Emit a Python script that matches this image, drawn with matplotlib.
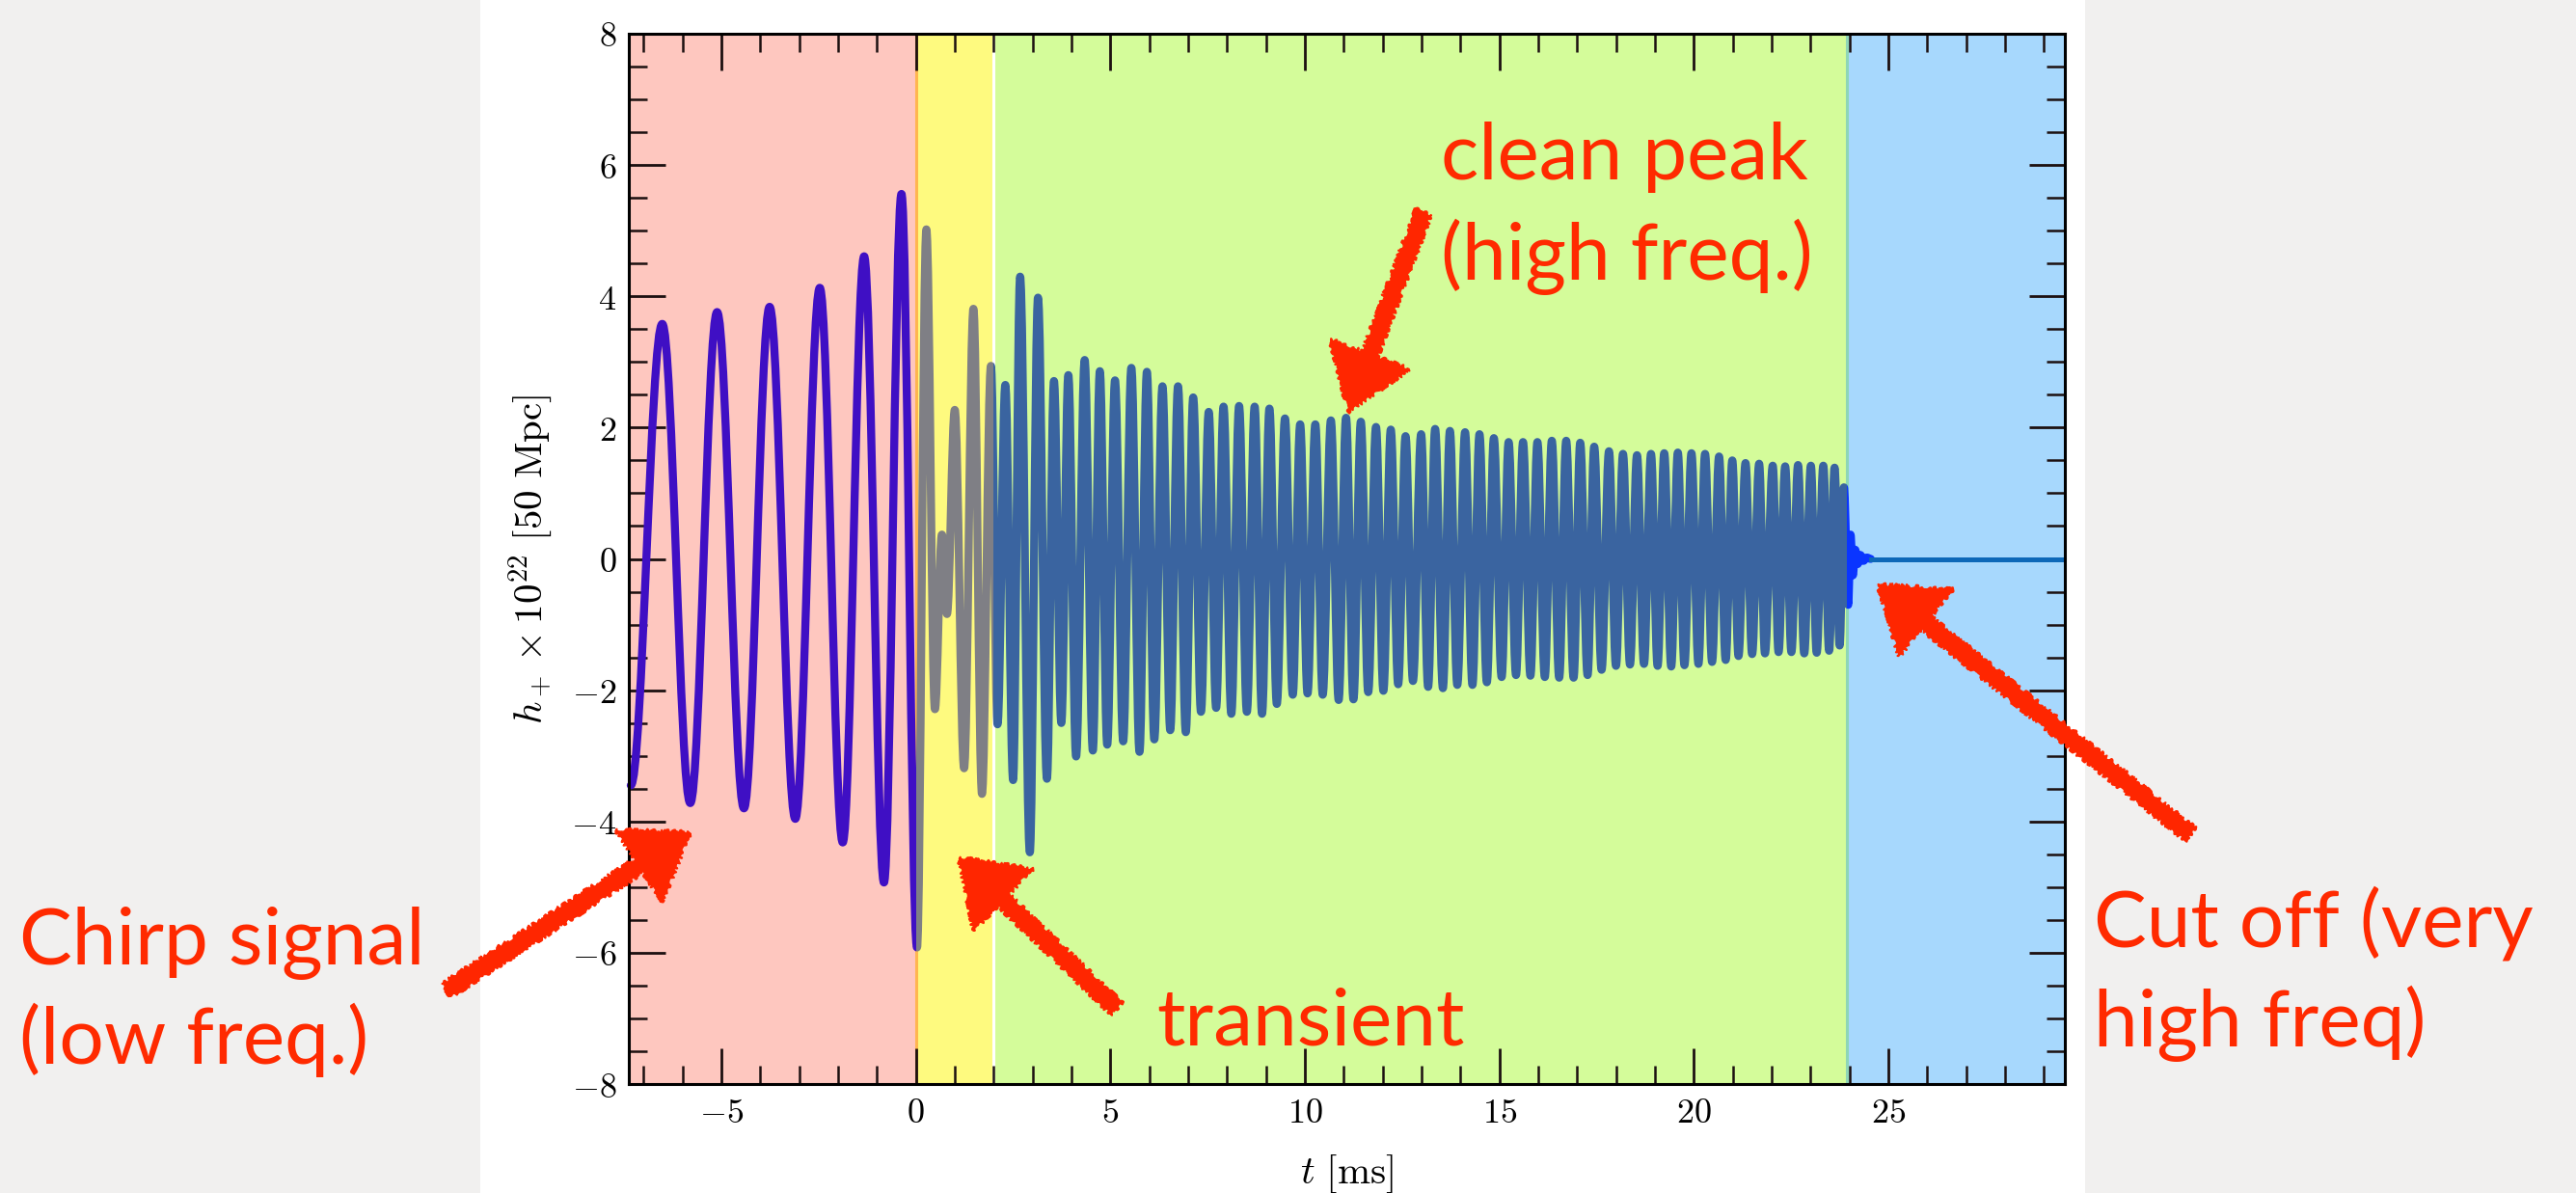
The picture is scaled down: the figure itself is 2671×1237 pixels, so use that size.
"""Gravitational-wave strain h+ with annotated signal regions."""

import matplotlib
matplotlib.use('Agg')
import matplotlib.pyplot as plt
from matplotlib.path import Path
from matplotlib.patches import PathPatch, Rectangle, FancyArrowPatch, ArrowStyle
from matplotlib.ticker import MultipleLocator, FuncFormatter

# Configuration
W, H = 2671, 1237
DPI = 100
RED = '#ff2a00'

# Waveform extrema (t in ms, h+ x 1e22)
chirp_t = [-7.33, -6.52, -5.80, -5.11, -4.42, -3.76, -3.10, -2.47, -1.88, -1.33, -0.82, -0.37]
chirp_h = [-3.45, 3.58, -3.72, 3.76, -3.80, 3.84, -3.96, 4.13, -4.32, 4.61, -4.93, 5.56]

transient_t = [0.03, 0.27, 0.49, 0.67, 0.80, 1.00, 1.24, 1.48, 1.70, 1.93]
transient_h = [-5.92, 5.02, -2.29, 0.37, -0.84, 2.27, -3.19, 3.81, -3.58, 2.94]

peak_t = [2.10, 2.30, 2.50, 2.68, 2.93, 3.14, 3.37, 3.55, 3.74, 3.92,
          4.12, 4.34, 4.55, 4.73, 4.92, 5.12, 5.33, 5.54, 5.75, 5.94,
          6.13, 6.34, 6.54, 6.74, 6.94, 7.13, 7.33, 7.53, 7.72, 7.91,
          8.11, 8.31, 8.51, 8.71, 8.90, 9.09, 9.28, 9.49, 9.69, 9.88,
          10.07, 10.27, 10.46, 10.67, 10.87, 11.06, 11.25, 11.44, 11.63, 11.83,
          12.02, 12.21, 12.40, 12.59, 12.78, 12.99, 13.17, 13.35, 13.55, 13.73,
          13.92, 14.12, 14.31, 14.49, 14.68, 14.86, 15.06, 15.24, 15.43, 15.61,
          15.80, 15.98, 16.17, 16.35, 16.54, 16.72, 16.91, 17.08, 17.27, 17.44,
          17.63, 17.82, 18.00, 18.18, 18.36, 18.54, 18.72, 18.90, 19.07, 19.24,
          19.42, 19.59, 19.76, 19.94, 20.12, 20.29, 20.47, 20.65, 20.82, 20.99,
          21.15, 21.33, 21.50, 21.68, 21.83, 22.03, 22.18, 22.35, 22.51, 22.68,
          22.84, 23.01, 23.16, 23.33, 23.48, 23.62, 23.75, 23.86]
peak_h = [-2.52, 2.65, -3.37, 4.30, -4.47, 3.98, -3.35, 2.71, -2.50, 2.80,
          -3.01, 3.03, -2.92, 2.86, -2.83, 2.72, -2.78, 2.91, -2.94, 2.85,
          -2.75, 2.63, -2.61, 2.63, -2.64, 2.46, -2.33, 2.24, -2.27, 2.32,
          -2.36, 2.33, -2.33, 2.32, -2.36, 2.29, -2.21, 2.14, -2.07, 2.05,
          -2.05, 2.05, -2.07, 2.11, -2.15, 2.15, -2.14, 2.09, -2.03, 2.01,
          -2.01, 1.97, -1.91, 1.87, -1.86, 1.90, -1.95, 1.98, -1.97, 1.95,
          -1.92, 1.93, -1.92, 1.90, -1.88, 1.84, -1.80, 1.78, -1.77, 1.78,
          -1.78, 1.78, -1.80, 1.80, -1.81, 1.80, -1.81, 1.77, -1.77, 1.71,
          -1.69, 1.64, -1.63, 1.60, -1.61, 1.58, -1.60, 1.60, -1.63, 1.61,
          -1.64, 1.62, -1.62, 1.61, -1.60, 1.60, -1.57, 1.56, -1.54, 1.50,
          -1.48, 1.46, -1.45, 1.45, -1.44, 1.42, -1.42, 1.41, -1.42, 1.43,
          -1.44, 1.42, -1.43, 1.42, -1.40, 1.39, -1.32, 1.09]

ring_t = [23.97, 24.03, 24.09, 24.15, 24.21, 24.28, 24.36, 24.45, 24.55]
ring_h = [-0.70, 0.37, -0.25, 0.14, -0.08, 0.06, -0.03, 0.02, 0.0]

flat_t = [24.55, 29.6]
flat_h = [0.0, 0.0]

# Region boundaries (ms) and colours
T_MIN, T_MAX = -7.38, 29.54
region_edges = [T_MIN, 0.0, 2.0, 23.93, T_MAX]
region_colors = ['#fec7bf', '#fefa7f', '#d4fc9a', '#a7d8fd']
edge_colors = ['#ffb54f', '#ffffff', '#8ed6b6']
line_colors = ['#3f0fc4', '#7f7f85', '#3a64a0', '#0a35ff']


def bezier_path(ts, hs, k=0.364):
    """Smooth path through extrema with flat tangents at each extremum."""
    verts = [(ts[0], hs[0])]
    codes = [Path.MOVETO]
    for i in range(len(ts) - 1):
        d = (ts[i + 1] - ts[i]) * k
        verts += [(ts[i] + d, hs[i]), (ts[i + 1] - d, hs[i + 1]), (ts[i + 1], hs[i + 1])]
        codes += [Path.CURVE4] * 3
    return Path(verts, codes)


def fig_xy(x, y):
    """Pixel position in the 2671x1237 picture -> figure fraction."""
    return x / W, 1 - y / H


plt.rcParams['mathtext.fontset'] = 'cm'
plt.rcParams['font.family'] = ['DejaVu Sans']

fig = plt.figure(figsize=(W / DPI, H / DPI), dpi=DPI, facecolor='#f1f0ef')
fig.add_artist(Rectangle(fig_xy(498, H), (2162 - 498) / W, 1, transform=fig.transFigure,
                         facecolor='white', edgecolor='none', zorder=-5))

ax = fig.add_axes([652 / W, 1 - 1124 / H, (2141 - 652) / W, (1124 - 35) / H])

for i in range(4):
    ax.axvspan(region_edges[i], region_edges[i + 1], color=region_colors[i], lw=0, zorder=0)
for x, c in zip(region_edges[1:4], edge_colors):
    ax.axvline(x, color=c, lw=2.2, zorder=0.5)

# waveform, coloured by region through clipping
all_t = chirp_t + transient_t + peak_t + ring_t
all_h = chirp_h + transient_h + peak_h + ring_h
wave = bezier_path(all_t, all_h)
for i in range(4):
    lo = region_edges[i] if i > 0 else -20
    hi = region_edges[i + 1] if i < 3 else 40
    patch = PathPatch(wave, facecolor='none', edgecolor=line_colors[i], lw=6.0,
                      capstyle='round', joinstyle='round', zorder=2)
    ax.add_patch(patch)
    patch.set_clip_path(Rectangle((lo, -20), hi - lo, 40, transform=ax.transData))
ax.plot(flat_t, flat_h, color='#0d68b8', lw=3.6, zorder=2)

ax.set_xlim(T_MIN, T_MAX)
ax.set_ylim(-8, 8)
ax.xaxis.set_major_locator(MultipleLocator(5))
ax.xaxis.set_minor_locator(MultipleLocator(1))
ax.yaxis.set_major_locator(MultipleLocator(2))
ax.yaxis.set_minor_locator(MultipleLocator(0.5))
fmt = FuncFormatter(lambda v, p: f'${v:g}$')
ax.xaxis.set_major_formatter(fmt)
ax.yaxis.set_major_formatter(fmt)
ax.tick_params(which='both', direction='in', top=True, right=True, colors='#1c1010',
               labelcolor='black', labelsize=26, pad=9)
ax.tick_params(which='major', length=27, width=2.0)
ax.tick_params(which='minor', length=13.5, width=1.8)
for s in ax.spines.values():
    s.set_linewidth(2.2)
    s.set_zorder(3)

ax.set_xlabel(r'$t\ [\mathrm{ms}]$', fontsize=29.5, labelpad=18)
ax.set_ylabel(r'$h_+ \times 10^{22}\ [50\ \mathrm{Mpc}]$', fontsize=29.5, labelpad=12)

# annotations
notes = [
    ('Chirp signal', 20, 1000),
    ('(low freq.)', 20, 1103),
    ('Cut off (very', 2171, 982),
    ('high freq)', 2171, 1085),
    ('transient', 1199, 1084),
    ('clean peak', 1494, 186),
    ('(high freq.)', 1494, 290),
]
for txt, x, y in notes:
    fig.text(*fig_xy(x, y), txt, color=RED, fontsize=59, family=['Lato', 'DejaVu Sans'],
             ha='left', va='baseline', zorder=6)

arrows = [
    ((463, 1027), (716, 863)),
    ((1158, 1046), (994, 889)),
    ((1476, 220), (1398, 427)),
    ((2271, 865), (1947, 606)),
]
for tail, tip in arrows:
    arr = FancyArrowPatch(fig_xy(*tail), fig_xy(*tip), transform=fig.transFigure,
                          arrowstyle=ArrowStyle.Simple(head_length=46, head_width=64, tail_width=12),
                          mutation_scale=1, shrinkA=0, shrinkB=0,
                          facecolor='#ff2600', edgecolor='#ff2600', lw=1.5, zorder=7)
    arr.set_sketch_params(scale=2, length=6, randomness=12)
    fig.add_artist(arr)

fig.savefig('out.png', dpi=DPI, facecolor=fig.get_facecolor())
